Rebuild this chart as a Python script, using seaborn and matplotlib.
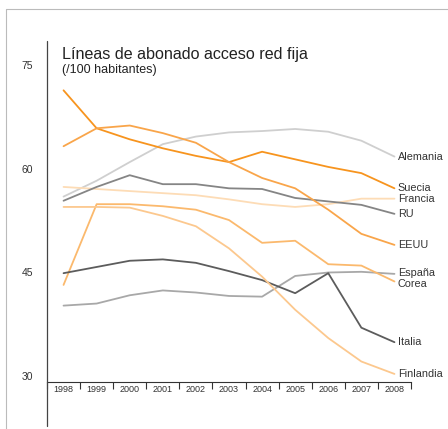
import matplotlib
matplotlib.use("Agg")
import matplotlib.pyplot as plt
from matplotlib.lines import Line2D
import seaborn as sns
import pandas as pd
import numpy as np

# data (lines per 100 inhabitants)
years = list(range(1998, 2009))
alemania = [56.0, 58.3, 61.0, 63.6, 64.7, 65.3, 65.5, 65.8, 65.4, 64.1, 61.8]
suecia = [71.4, 65.9, 64.3, 63.0, 61.9, 61.0, 62.5, 61.4, 60.3, 59.4, 57.2]
francia = [57.4, 57.1, 56.8, 56.5, 56.2, 55.6, 54.9, 54.5, 54.9, 55.7, 55.7]
ru = [55.4, 57.4, 59.1, 57.8, 57.8, 57.2, 57.1, 55.8, 55.3, 54.8, 53.5]
eeuu = [63.3, 65.9, 66.3, 65.2, 63.8, 61.0, 58.7, 57.2, 54.1, 50.6, 49.0]
espana = [40.2, 40.5, 41.7, 42.4, 42.1, 41.6, 41.5, 44.5, 45.0, 45.1, 44.8]
corea = [43.2, 54.9, 54.9, 54.6, 54.1, 52.6, 49.3, 49.6, 46.2, 46.0, 43.7]
italia = [44.9, 45.8, 46.7, 46.9, 46.4, 45.2, 43.9, 42.0, 44.9, 37.0, 34.9]
finlandia = [54.5, 54.5, 54.4, 53.2, 51.7, 48.5, 44.4, 39.6, 35.5, 32.1, 30.3]

countries = ["Alemania", "Suecia", "Francia", "RU", "EEUU",
             "España", "Corea", "Italia", "Finlandia"]
series = [alemania, suecia, francia, ru, eeuu, espana, corea, italia, finlandia]
colors = {"Alemania": "#cfcfcf", "Suecia": "#f7941e", "Francia": "#fddcb6",
          "RU": "#858585", "EEUU": "#f9a54a", "España": "#a8a8a8",
          "Corea": "#fbb96d", "Italia": "#5c5c5c", "Finlandia": "#fcc88e"}
label_nudge = {"Corea": -1.5, "España": 0.8}

df = pd.DataFrame({"year": np.tile(years, len(countries)),
                   "value": np.concatenate(series),
                   "country": np.repeat(countries, len(years))})

sns.set_style("white")
plt.rcParams["font.family"] = ["Liberation Sans", "DejaVu Sans"]

fig = plt.figure(figsize=(4.48, 4.29), dpi=100)
ax = fig.add_axes([47/448, 1 - 382/429, (411 - 47)/448, (382 - 41)/429])

sns.lineplot(data=df, x="year", y="value", hue="country", palette=colors,
             hue_order=countries, linewidth=1.3, legend=False, ax=ax)

ax.set_xlim(1997.5, 2008.5)
ax.set_ylim(29.13, 78.55)
ax.set_xlabel("")
ax.set_ylabel("")

# y axis
ax.set_yticks([30, 45, 60, 75])
ax.tick_params(axis="y", length=0, pad=10, labelsize=7.5, labelcolor="#333333")

# x axis: labels centred in cells, ticks at the borders
ax.set_xticks(years)
ax.set_xticklabels([str(y) for y in years])
ax.set_xticks(np.arange(1997.5, 2009, 1), minor=True)
ax.tick_params(axis="x", which="major", length=0, pad=2, labelsize=6.5,
               labelcolor="#333333")
ax.tick_params(axis="x", which="minor", length=5, width=0.8, color="#333333",
               direction="out", bottom=True)

for s in ["top", "right", "left"]:
    ax.spines[s].set_visible(False)
ax.spines["bottom"].set_color("#333333")
ax.spines["bottom"].set_linewidth(0.8)

# line labels at the right end
for name, vals in zip(countries, series):
    ax.annotate(name, xy=(years[-1], vals[-1]), xytext=(2.5, label_nudge.get(name, 0)),
                textcoords="offset points", ha="left", va="center",
                fontsize=7.8, color="#333333", annotation_clip=False)

# titles
fig.text(62/448, 1 - 55/429, "Líneas de abonado acceso red fija",
         fontsize=11.6, color="#222222", va="center")
fig.text(62/448, 1 - 70/429, "(/100 habitantes)",
         fontsize=9, color="#222222", va="center")

# vertical axis rule and outer frame
fig.add_artist(Line2D([47/448, 47/448], [1 - 41/429, 1 - 426/429],
                      transform=fig.transFigure, color="#444444", lw=0.9))
fig.add_artist(Line2D([6/448, 6/448, 1.0], [0.0, 1 - 9/429, 1 - 9/429],
                      transform=fig.transFigure, color="#bbbbbb", lw=0.8))

fig.savefig("out.png", dpi=100)
